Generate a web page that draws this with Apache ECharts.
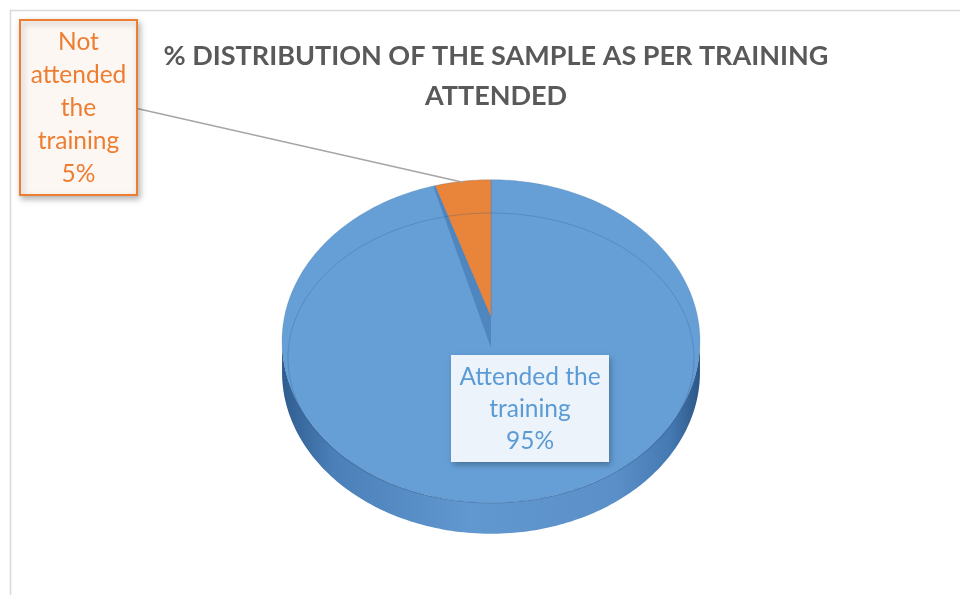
<!DOCTYPE html>
<html>
<head>
<meta charset="utf-8">
<script src="https://cdn.jsdelivr.net/npm/echarts@6/dist/echarts.min.js"></script>
<style>
  html, body { margin: 0; padding: 0; background: #ffffff; }
  #chart { width: 960px; height: 595px; }
</style>
</head>
<body>
<div id="chart"></div>
<script>
// Sample split by training attendance (percent of respondents)
const categories = ['Attended the training', 'Not attended the training'];
const shares = [95, 5];
const labelLines = ['Attended the\ntraining', 'Not\nattended\nthe\ntraining'];
const titleText = '% DISTRIBUTION OF THE SAMPLE AS PER TRAINING\nATTENDED';

// Styling
const sliceColors = ['#659fd6', '#e9843b'];
const textColors = ['#5b9bd5', '#ed7d31'];
const FONT = 'Lato, "Open Sans", sans-serif';

// Tilted disc seen in mild perspective (screen pixels)
// cx, cy: projected centre; a, b: horizontal / vertical radii; k: depth foreshortening
const disc = { cx: 491, cy: 317, a: 206.6, b: 157.9, k: 0.15, thick: 31 };
const labelBoxes = [
  { x: 451, y: 355, w: 158, h: 107, fill: '#edf3fa', stroke: null, size: 24.5, lh: 32 },
  { x: 20, y: 20, w: 117, h: 175, fill: '#fdf7f3', stroke: '#ed7d31', size: 24.5, lh: 33 }
];

const total = shares.reduce((a, b) => a + b, 0);
const startAngles = shares.map((v, i) => shares.slice(0, i).reduce((a, b) => a + b, 0) / total * 360);

// rim point; angle in degrees, clockwise from 12 o'clock (the far edge)
function rim(theta, dy) {
  const t = theta * Math.PI / 180;
  const f = 1 / (1 + disc.k * Math.cos(t));
  return [disc.cx + disc.a * Math.sin(t) * f, disc.cy - disc.b * Math.cos(t) * f + (dy || 0)];
}
function arcPts(a0, a1, dy) {
  const pts = [];
  const n = Math.max(2, Math.ceil(Math.abs(a1 - a0)));
  for (let k = 0; k <= n; k++) pts.push(rim(a0 + (a1 - a0) * k / n, dy));
  return pts;
}
// silhouette: where the rim is horizontally extreme
const sideAngle = Math.acos(-disc.k) * 180 / Math.PI;

function renderItem(params, api) {
  const i = params.dataIndex;
  const value = api.value(1);
  const a0 = startAngles[i];
  const a1 = a0 + value / total * 360;
  const apex = [disc.cx, disc.cy];
  const children = [];

  // front wall of the disc (only the part facing the viewer)
  const lo = Math.max(a0, sideAngle), hi = Math.min(a1, 360 - sideAngle);
  if (hi > lo) {
    const wall = arcPts(lo, hi, 0).concat(arcPts(hi, lo, disc.thick));
    children.push({
      type: 'polygon',
      shape: { points: wall },
      style: {
        fill: new echarts.graphic.LinearGradient(0, 0, 1, 0, [
          { offset: 0, color: '#2f5d8f' },
          { offset: 0.12, color: '#4a7fb8' },
          { offset: 0.45, color: '#6298d0' },
          { offset: 0.8, color: '#5a8fc8' },
          { offset: 0.93, color: '#4479b2' },
          { offset: 1, color: '#2c5686' }
        ]),
        stroke: null
      }
    });
  }

  // exposed radial face beside the small slice
  if (i === shares.length - 1) {
    const p = rim(a0, 0);
    children.push({
      type: 'polygon',
      shape: { points: [p, apex, [apex[0], apex[1] + disc.thick], [p[0] - 1, p[1] + 3]] },
      style: { fill: '#4f86c0' }
    });
  }

  // top face of the slice
  const top = [apex].concat(arcPts(a0, a1, 0));
  children.push({
    type: 'polygon',
    shape: { points: top },
    style: { fill: sliceColors[i], stroke: 'rgba(60,100,150,0.35)', lineWidth: 0.6 }
  });

  // bevel highlight ring across the top face
  if (i === shares.length - 1) {
    const ring = [];
    const icx = 491, icy = 358, irx = 203, iry = 145;
    for (let k = 0; k <= 360; k += 2) {
      const t = k * Math.PI / 180;
      ring.push([icx + irx * Math.sin(t), icy - iry * Math.cos(t)]);
    }
    children.push({
      type: 'polyline',
      shape: { points: ring },
      style: { fill: null, stroke: 'rgba(40,85,140,0.28)', lineWidth: 1 }
    });
  }

  // data label with leader line
  const box = labelBoxes[i];
  if (i === shares.length - 1) {
    const tip = rim((a0 + a1) / 2, 1);
    children.push({
      type: 'line',
      shape: { x1: box.x + box.w, y1: box.y + box.h * 0.5 + 1, x2: tip[0], y2: tip[1] },
      style: { stroke: '#a6a6a6', lineWidth: 1.5 }
    });
  }
  children.push({
    type: 'rect',
    shape: { x: box.x, y: box.y, width: box.w, height: box.h },
    style: {
      fill: box.fill,
      stroke: box.stroke,
      lineWidth: box.stroke ? 2 : 0,
      shadowBlur: 6,
      shadowOffsetX: 2,
      shadowOffsetY: 3,
      shadowColor: 'rgba(0,0,0,0.28)'
    }
  });
  children.push({
    type: 'text',
    x: box.x + box.w / 2,
    y: box.y + box.h / 2 + 1,
    style: {
      text: labelLines[i] + '\n' + Math.round(value / total * 100) + '%',
      fill: textColors[i],
      font: box.size + 'px ' + FONT,
      lineHeight: box.lh,
      align: 'center',
      verticalAlign: 'middle'
    }
  });

  return { type: 'group', children: children };
}

const chart = echarts.init(document.getElementById('chart'), null, { renderer: 'canvas' });
chart.setOption({
  backgroundColor: '#ffffff',
  animation: false,
  title: {
    text: titleText,
    left: 491,
    top: 31,
    textAlign: 'center',
    textStyle: {
      color: '#595959',
      fontFamily: FONT,
      fontWeight: 'bold',
      fontSize: 27,
      lineHeight: 40
    }
  },
  graphic: [{
    type: 'rect',
    shape: { x: 10.5, y: 10.5, width: 1200, height: 1200 },
    style: { fill: null, stroke: '#d9d9d9', lineWidth: 1.5 },
    silent: true
  }],
  series: [{
    type: 'custom',
    coordinateSystem: 'none',
    renderItem: renderItem,
    data: shares.map((v, i) => ({ name: categories[i], value: [i, v] }))
  }]
});
</script>
</body>
</html>
